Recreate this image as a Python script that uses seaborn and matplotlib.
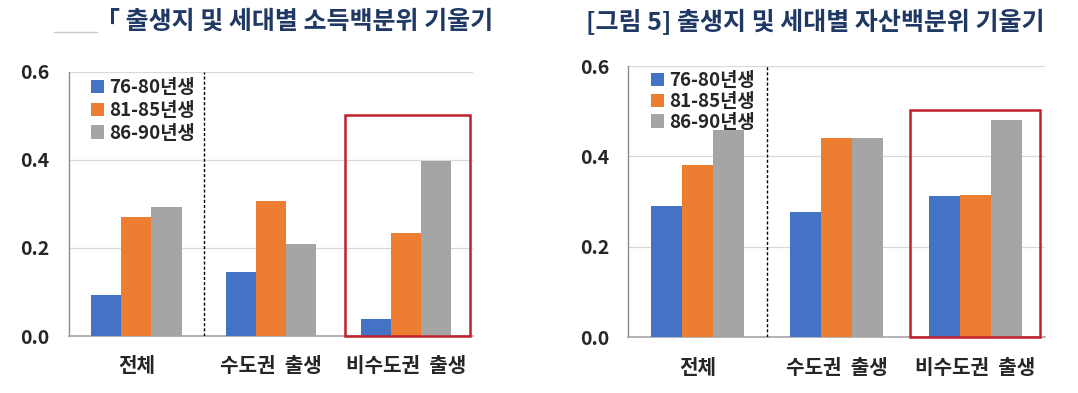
import matplotlib
matplotlib.use("Agg")
import matplotlib.pyplot as plt
import pandas as pd
import seaborn as sns
from matplotlib.lines import Line2D
from matplotlib.patches import Rectangle

regions = ["전체", "수도권 출생", "비수도권 출생"]
cohorts = ["76-80년생", "81-85년생", "86-90년생"]
colors = ["#4472C4", "#ED7D31", "#A5A5A5"]

income_76_80 = [0.093, 0.145, 0.038]
income_81_85 = [0.270, 0.306, 0.235]
income_86_90 = [0.292, 0.210, 0.398]

asset_76_80 = [0.291, 0.277, 0.312]
asset_81_85 = [0.381, 0.441, 0.314]
asset_86_90 = [0.458, 0.441, 0.480]

titles = ["「 출생지 및 세대별 소득백분위 기울기", "[그림 5] 출생지 및 세대별 자산백분위 기울기"]
y_ticks = [0.0, 0.2, 0.4, 0.6]


def to_long(s1, s2, s3):
    rows = []
    for cohort, series in zip(cohorts, [s1, s2, s3]):
        for region, v in zip(regions, series):
            rows.append({"region": region, "cohort": cohort, "value": v})
    return pd.DataFrame(rows)


sns.set_style("white")
plt.rcParams["font.family"] = ["Noto Sans CJK KR", "DejaVu Sans"]
plt.rcParams["font.weight"] = "bold"

fig = plt.figure(figsize=(10.78, 3.93), dpi=100)
ax1 = fig.add_axes([0.064, 0.145, 0.375, 0.672])
ax2 = fig.add_axes([0.583, 0.142, 0.386, 0.690])

# (axes, data, red box x0/x1/top, legend anchor y, legend row spacing)
panels = [
    (ax1, to_long(income_76_80, income_81_85, income_86_90), (1.545, 2.478, 0.503), 1.005, 0.2),
    (ax2, to_long(asset_76_80, asset_81_85, asset_86_90), (1.533, 2.464, 0.502), 1.01, 0.1),
]

for ax, df, box, leg_y, leg_sp in panels:
    sns.barplot(data=df, x="region", y="value", hue="cohort", order=regions,
                hue_order=cohorts, palette=colors, saturation=1, width=0.67,
                gap=0, linewidth=0, ax=ax, zorder=3)
    ax.set_xlim(-0.5, 2.5)
    ax.set_ylim(0, 0.6)
    ax.set_yticks(y_ticks)
    ax.set_yticklabels([f"{t:.1f}" for t in y_ticks], fontsize=14, fontweight="bold")
    ax.set_xticks(range(len(regions)))
    ax.set_xticklabels([r.replace(" ", "  ") for r in regions], fontsize=14.5,
                       fontweight="bold")
    ax.set_xlabel("")
    ax.set_ylabel("")
    for y in y_ticks[1:]:
        ax.axhline(y, color="#d9d9d9", lw=0.9, zorder=0)
    for side in ["top", "right"]:
        ax.spines[side].set_visible(False)
    ax.spines["left"].set_color("#8c8c8c")
    ax.spines["bottom"].set_color("#a6a6a6")
    ax.spines["left"].set_linewidth(1.0)
    ax.spines["bottom"].set_linewidth(1.2)
    ax.tick_params(axis="y", length=4, width=0.8, color="#8c8c8c", pad=10)
    ax.tick_params(axis="x", length=0, pad=14)
    ax.plot([0.5, 0.5], [0, 0.6], color="black", lw=1.0, ls=(0, (2.2, 1.5)), zorder=4)
    x0, x1, top = box
    ax.add_patch(Rectangle((x0, 0), x1 - x0, top, fill=False,
                           edgecolor="#C0202A", lw=1.8, zorder=5, clip_on=False))
    ax.legend(frameon=False, loc="upper left", bbox_to_anchor=(0.035, leg_y),
              borderaxespad=0, handlelength=0.7, handleheight=0.7,
              handletextpad=0.3, labelspacing=leg_sp,
              prop={"size": 13.5, "weight": "bold"})

fig.text(0.088, 0.945, titles[0], fontsize=18, fontweight="bold",
         color="#1F3864", va="center", ha="left")
fig.text(0.544, 0.945, titles[1], fontsize=18, fontweight="bold",
         color="#1F3864", va="center", ha="left")
fig.add_artist(Line2D([0.05, 0.09], [0.918, 0.918], color="#c8c8c8", lw=1.0))

fig.savefig("out.png", dpi=100)
